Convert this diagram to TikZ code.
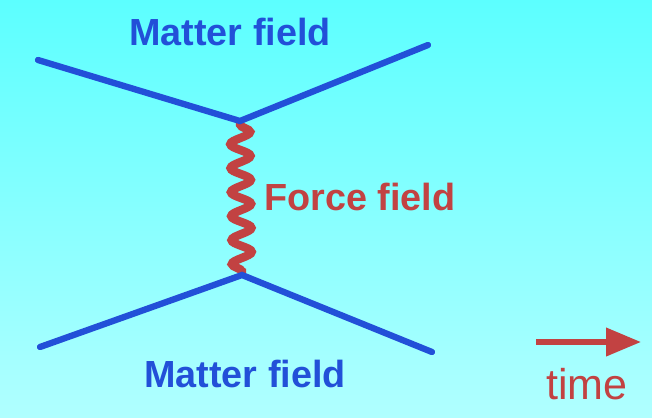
\documentclass[tikz,border=0pt]{standalone}
\usepackage{fontspec}
\setmainfont{Liberation Sans}
\usepackage{tikz}
\usetikzlibrary{arrows.meta,positioning,calc,decorations.pathmorphing}
\definecolor{matter}{HTML}{2250D8}
\definecolor{force}{HTML}{C24242}
\definecolor{skytop}{HTML}{5CFFFF}
\definecolor{skybot}{HTML}{B0FFFF}

\begin{document}
\begin{tikzpicture}[x=0.02cm, y=-0.02cm, >=Triangle,
  fermion/.style={matter, line width=3.6pt, line cap=round},
  boson/.style={force, line width=4.8pt, decorate,
                decoration={snake, segment length=0.48cm, amplitude=0.2cm,
                            pre length=2pt, post length=2pt}},
  lbl/.style={font=\fontsize{21.5}{24}\selectfont\bfseries, inner sep=1pt}]
  % background
  \shade[top color=skytop, bottom color=skybot] (0,0) rectangle (652,417);
  \useasboundingbox (0,0) rectangle (652,417);
  % vertices and external legs
  \coordinate (vtop) at (240,121);
  \coordinate (vbot) at (242,275);
  \coordinate (inA) at (38,60);
  \coordinate (outA) at (428,45);
  \coordinate (inB) at (40,347);
  \coordinate (outB) at (432,352);
  \draw[boson] (vtop) -- (vbot);
  \draw[fermion] (inA) -- (vtop) -- (outA);
  \draw[fermion] (inB) -- (vbot) -- (outB);
  % labels
  \node[lbl, matter] (mtop) at (230,32) {Matter field};
  \node[lbl, matter] (mbot) at (245,374) {Matter field};
  \node[lbl, force] (ff) at (360,197) {Force field};
  % time arrow
  \coordinate (t0) at (536,342);
  \coordinate (t1) at (641,342);
  \draw[->, force, line width=3.2pt, arrows={-Triangle[length=7mm, width=5.5mm]}] (t0) -- (t1);
  \node[font=\fontsize{24.5}{28}\selectfont, force, inner sep=1pt] (time) at (587,384) {time};
\end{tikzpicture}
\end{document}
